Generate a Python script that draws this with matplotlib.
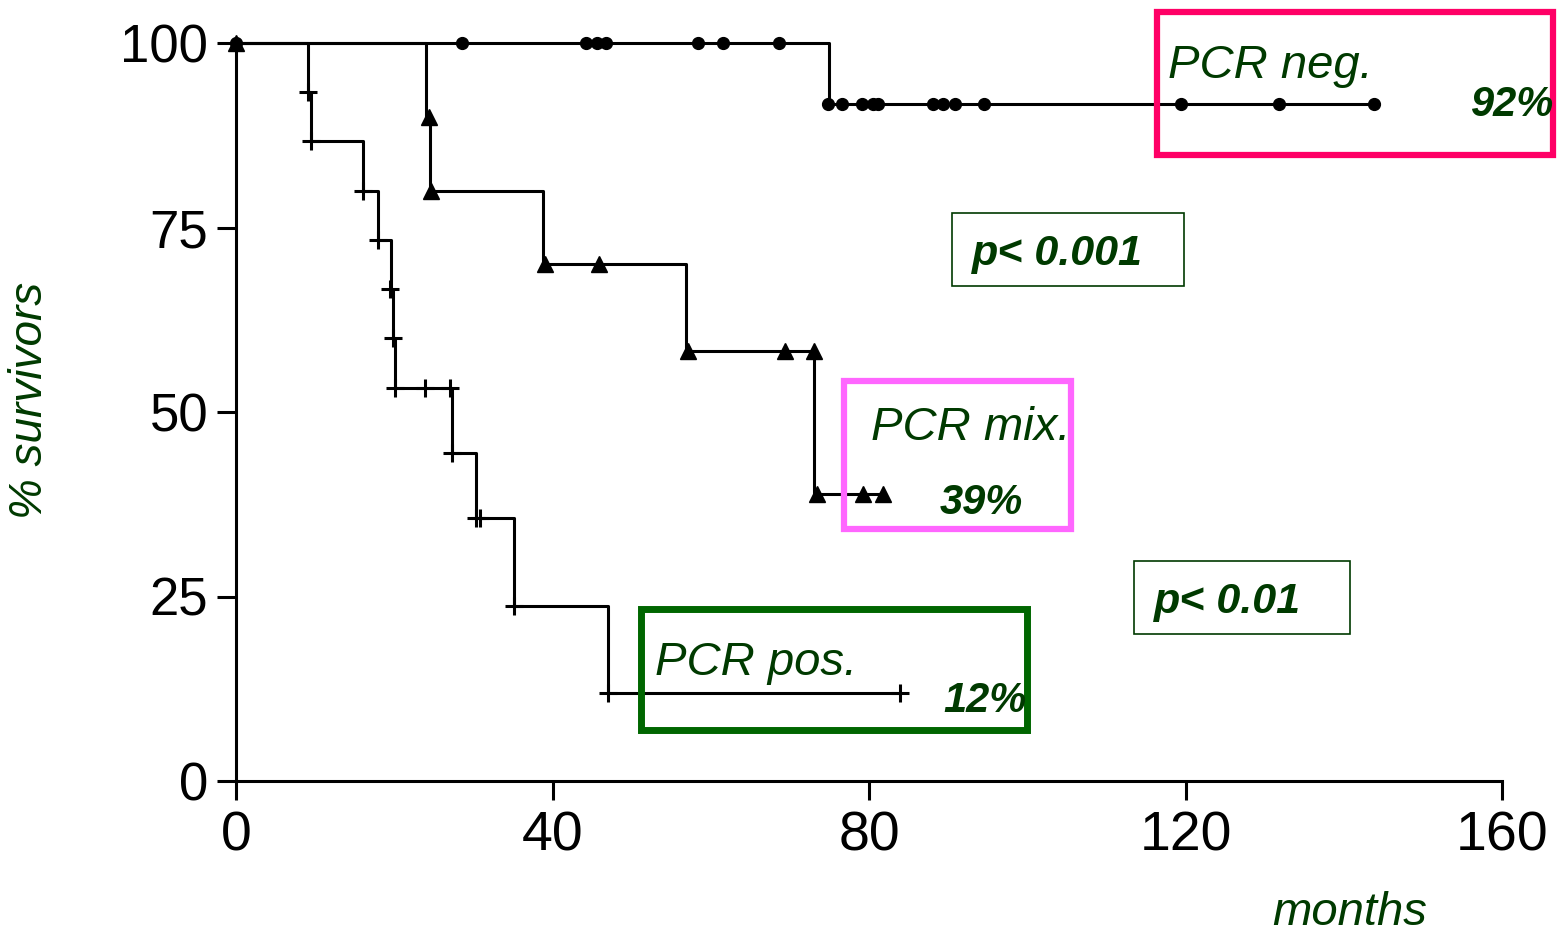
import matplotlib
matplotlib.use("Agg")
import matplotlib.pyplot as plt
from matplotlib.patches import Rectangle

plt.rcParams['font.family'] = ['Liberation Sans', 'DejaVu Sans']

# PCR negative group (circles)
neg_t = [0, 75.0, 143.8]
neg_s = [100, 91.7, 91.7]
neg_mark_t = [0, 28.6, 44.2, 45.6, 46.8, 58.4, 61.5, 68.6,
              74.8, 76.6, 79.1, 80.5, 81.1, 88.1, 89.4, 90.9, 94.5, 119.4, 131.8, 143.8]
neg_mark_s = [100, 100, 100, 100, 100, 100, 100, 100,
              91.7, 91.7, 91.7, 91.7, 91.7, 91.7, 91.7, 91.7, 91.7, 91.7, 91.7, 91.7]

# PCR mixed group (triangles)
mix_t = [0, 24.0, 24.5, 38.8, 56.9, 73.0, 81.8]
mix_s = [100, 90, 80, 70, 58.3, 38.9, 38.9]
mix_mark_t = [0, 24.4, 24.6, 39.0, 45.9, 57.1, 69.4, 73.0, 73.4, 79.2, 81.8]
mix_mark_s = [100, 90, 80, 70, 70, 58.3, 58.3, 58.3, 38.9, 38.9, 38.9]

# PCR positive group (crosses)
pos_t = [0, 9.1, 9.5, 16.0, 18.0, 19.6, 19.9, 20.1, 27.3, 30.3, 35.1, 47.0, 83.9]
pos_s = [100, 93.3, 86.7, 80, 73.3, 66.7, 60, 53.3, 44.4, 35.6, 23.7, 11.9, 11.9]
pos_mark_t = [9.1, 9.5, 16.0, 17.9, 19.5, 19.8, 20.1, 23.9, 27.0, 27.3, 30.3, 30.9, 35.1, 47.0, 83.9]
pos_mark_s = [93.3, 86.7, 80, 73.3, 66.7, 60, 53.3, 53.3, 53.3, 44.4, 35.6, 35.6, 23.7, 11.9, 11.9]

x_ticks = [0, 40, 80, 120, 160]
y_ticks = [0, 25, 50, 75, 100]

W, H = 1557, 936
green_txt = '#003a00'

fig = plt.figure(figsize=(W / 100, H / 100), dpi=100)
ax = fig.add_axes([236 / W, 1 - 781 / H, (1502 - 236) / W, (781 - 43) / H])

lw = 2.2
ax.plot(neg_t, neg_s, drawstyle='steps-post', color='black', lw=lw, clip_on=False)
ax.plot(neg_mark_t, neg_mark_s, 'o', color='black', ms=8.5, clip_on=False)
ax.plot(mix_t, mix_s, drawstyle='steps-post', color='black', lw=lw, clip_on=False)
ax.plot(mix_mark_t, mix_mark_s, '^', color='black', ms=11, clip_on=False)
ax.plot(pos_t, pos_s, drawstyle='steps-post', color='black', lw=lw, clip_on=False)
ax.plot(pos_mark_t, pos_mark_s, '+', color='black', ms=13, mew=2.2, clip_on=False)

ax.set_xlim(0, 160)
ax.set_ylim(0, 100)
ax.set_xticks(x_ticks)
ax.set_yticks(y_ticks)
for s in ['top', 'right']:
    ax.spines[s].set_visible(False)
for s in ['left', 'bottom']:
    ax.spines[s].set_linewidth(2.2)
ax.tick_params(axis='both', direction='out', length=14, width=2.2, color='black')
ax.tick_params(axis='x', labelsize=40, pad=7)
ax.tick_params(axis='y', labelsize=38, pad=6)


def fx(x):
    return x / W


def fy(y):
    return 1 - y / H


fig.text(fx(30), fy(400), '% survivors', rotation=90, ha='center', va='center',
         fontsize=33, style='italic', color=green_txt)
fig.text(fx(1350), fy(913), 'months', ha='center', va='center',
         fontsize=34, style='italic', color=green_txt)


def box(x0, y0, x1, y1, color, lw):
    fig.patches.append(Rectangle((fx(x0), fy(y1)), (x1 - x0) / W, (y1 - y0) / H,
                                 transform=fig.transFigure, fill=False,
                                 edgecolor=color, linewidth=lw))


box(1157, 12, 1553, 155, '#ff0066', 4.5)
box(844, 381, 1071, 529, '#ff66ff', 4.5)
box(641, 609, 1027, 730, '#006600', 5)
box(952, 213, 1184, 286, '#003a00', 1.2)
box(1134, 561, 1350, 634, '#003a00', 1.2)

fig.text(fx(1168), fy(78), 'PCR neg.', fontsize=34, style='italic', color=green_txt)
fig.text(fx(1553), fy(116), '92%', fontsize=30, style='italic', weight='bold',
         color=green_txt, ha='right')
fig.text(fx(871), fy(440), 'PCR mix.', fontsize=34, style='italic', color=green_txt)
fig.text(fx(940), fy(514), '39%', fontsize=30, style='italic', weight='bold', color=green_txt)
fig.text(fx(655), fy(675), 'PCR pos.', fontsize=34, style='italic', color=green_txt)
fig.text(fx(943), fy(712), '12%', fontsize=30, style='italic', weight='bold', color=green_txt)
fig.text(fx(972), fy(265), 'p< 0.001', fontsize=31, style='italic', weight='bold', color=green_txt)
fig.text(fx(1154), fy(613), 'p< 0.01', fontsize=31, style='italic', weight='bold', color=green_txt)

fig.savefig('out.png', dpi=100)
